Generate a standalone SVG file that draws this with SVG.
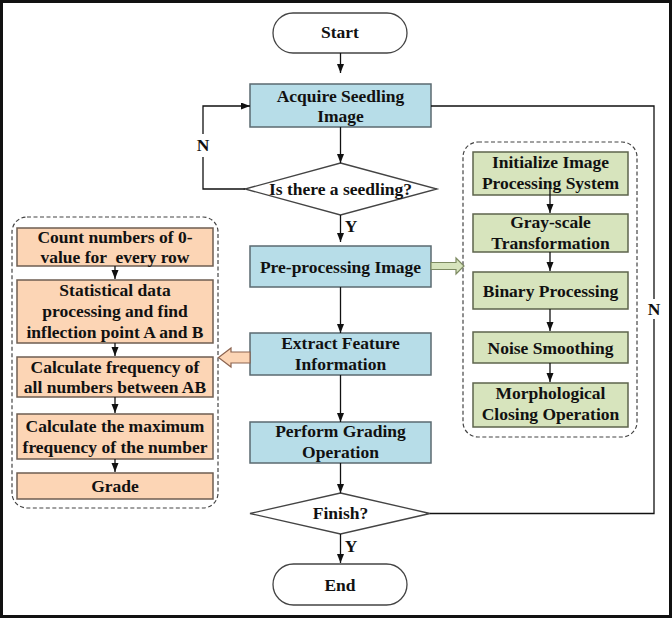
<svg xmlns="http://www.w3.org/2000/svg" width="672" height="618" viewBox="0 0 672 618">
<defs>
<style>
text{font-family:"Liberation Serif","Times New Roman",serif;font-weight:bold;font-size:17.5px;fill:#111;text-anchor:middle}
.blue{fill:#b7dde8;stroke:#5b6a70;stroke-width:1.5}
.orange{fill:#fcd5b5;stroke:#6e5d52;stroke-width:1.5}
.green{fill:#d7e4bd;stroke:#5d644c;stroke-width:1.5}
.term{fill:#fff;stroke:#444;stroke-width:1.3}
.grp{fill:none;stroke:#444;stroke-width:1.2;stroke-dasharray:4 2.5}
.con{fill:none;stroke:#111;stroke-width:1.3}
</style>
<marker id="ah" markerUnits="userSpaceOnUse" markerWidth="10" markerHeight="8" refX="9" refY="3.5" orient="auto">
<path d="M0,0 L9,3.5 L0,7 z" fill="#111"/>
</marker>
</defs>
<rect x="1.5" y="1.5" width="669" height="615" fill="#fff" stroke="#111" stroke-width="3"/>

<g id="group-left">
<rect class="grp" x="12" y="217" width="206" height="291" rx="15"/>
</g>
<g id="group-right">
<rect class="grp" x="463" y="142" width="174" height="295" rx="15"/>
</g>

<g id="start"><rect class="term" x="273" y="13" width="134" height="40" rx="20"/><text x="340" y="38">Start</text></g>
<g id="acquire"><rect class="blue" x="250" y="84" width="181" height="43"/><text x="340.5" y="102">Acquire Seedling</text><text x="340.5" y="122">Image</text></g>
<g id="seedling-decision"><polygon class="term" points="340.5,163 437,189 340.5,215 245,189"/><text x="340.5" y="195">Is there a seedling?</text></g>
<g id="preprocess"><rect class="blue" x="250" y="246" width="181" height="41"/><text x="340.5" y="273">Pre-processing Image</text></g>
<g id="extract"><rect class="blue" x="250" y="333" width="181" height="42"/><text x="340.5" y="349">Extract Feature</text><text x="340.5" y="370">Information</text></g>
<g id="grading"><rect class="blue" x="250" y="422" width="181" height="41"/><text x="340.5" y="437">Perform Grading</text><text x="340.5" y="458">Operation</text></g>
<g id="finish-decision"><polygon class="term" points="340.5,493 430,513.5 340.5,534 250,513.5"/><text x="340.5" y="519">Finish?</text></g>
<g id="end"><rect class="term" x="273" y="564" width="134" height="41" rx="20.5"/><text x="340" y="591">End</text></g>

<g id="init"><rect class="green" x="473" y="152" width="155" height="43"/><text x="550.5" y="168">Initialize Image</text><text x="550.5" y="189">Processing System</text></g>
<g id="gray"><rect class="green" x="473" y="214" width="155" height="38"/><text x="550.5" y="228">Gray-scale</text><text x="550.5" y="249">Transformation</text></g>
<g id="binary"><rect class="green" x="473" y="272" width="155" height="37"/><text x="550.5" y="297">Binary Processing</text></g>
<g id="noise"><rect class="green" x="473" y="332" width="155" height="31"/><text x="550.5" y="354">Noise Smoothing</text></g>
<g id="morph"><rect class="green" x="473" y="383" width="155" height="44"/><text x="550.5" y="399">Morphological</text><text x="550.5" y="420">Closing Operation</text></g>

<g id="count"><rect class="orange" x="17" y="228" width="196" height="38"/><text x="115" y="243">Count numbers of 0-</text><text x="115" y="263" xml:space="preserve">value for  every row</text></g>
<g id="statistical"><rect class="orange" x="17" y="280" width="196" height="63"/><text x="115" y="296">Statistical data</text><text x="115" y="317">processing and find</text><text x="115" y="338">inflection point A and B</text></g>
<g id="frequency"><rect class="orange" x="17" y="357" width="196" height="40"/><text x="115" y="373">Calculate frequency of</text><text x="115" y="393">all numbers between AB</text></g>
<g id="maximum"><rect class="orange" x="17" y="414" width="196" height="45"/><text x="115" y="432">Calculate the maximum</text><text x="115" y="453">frequency of the number</text></g>
<g id="grade"><rect class="orange" x="17" y="473" width="196" height="26"/><text x="115" y="492">Grade</text></g>

<g id="connectors">
<path class="con" d="M340.5,53 V73" marker-end="url(#ah)"/>
<path class="con" d="M340.5,127 V163" marker-end="url(#ah)"/>
<path class="con" d="M340.5,215 V242" marker-end="url(#ah)"/>
<path class="con" d="M340.5,287 V333" marker-end="url(#ah)"/>
<path class="con" d="M340.5,375 V422" marker-end="url(#ah)"/>
<path class="con" d="M340.5,463 V493" marker-end="url(#ah)"/>
<path class="con" d="M340.5,534 V563" marker-end="url(#ah)"/>
<path class="con" d="M245,189 H203 V157 M203,134 V106 H250" marker-end="url(#ah)"/>
<path class="con" d="M430,513.5 H654 V319 M654,299 V106 H431"/>
<path class="con" d="M115,266 V279" marker-end="url(#ah)"/>
<path class="con" d="M115,343 V356" marker-end="url(#ah)"/>
<path class="con" d="M115,397 V413" marker-end="url(#ah)"/>
<path class="con" d="M115,459 V472" marker-end="url(#ah)"/>
<path class="con" d="M550,189 V213" marker-end="url(#ah)"/>
<path class="con" d="M550,252 V271" marker-end="url(#ah)"/>
<path class="con" d="M550,309 V331" marker-end="url(#ah)"/>
<path class="con" d="M550,363 V382" marker-end="url(#ah)"/>
<polygon points="431,262.5 456,262.5 456,258 464,266 456,274 456,269.5 431,269.5" fill="#d7e4bd" stroke="#7d8a62" stroke-width="1.2"/>
<polygon points="250,352 231,352 231,348 218.5,357.5 231,367 231,363 250,363" fill="#fcd5b5" stroke="#8c6450" stroke-width="1.2"/>
<text x="203" y="151">N</text>
<text x="654" y="315">N</text>
<text x="351" y="232">Y</text>
<text x="351" y="552">Y</text>
</g>
</svg>
